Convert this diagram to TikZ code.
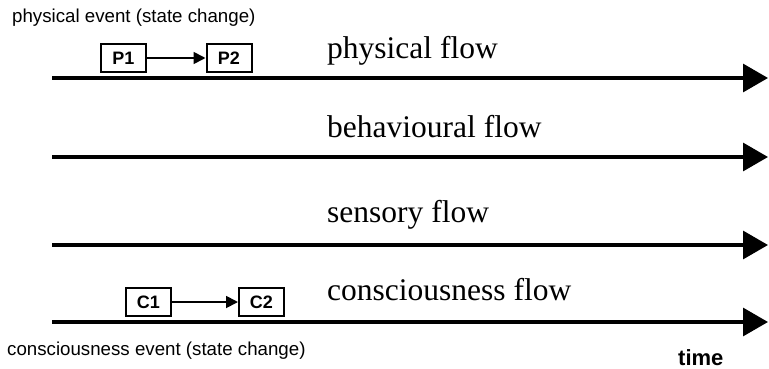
\documentclass[tikz,border=0pt]{standalone}
\usepackage{fontspec}
\setmainfont{Liberation Serif}
\setsansfont{Liberation Sans}
\usetikzlibrary{arrows.meta}
\begin{document}
\begin{tikzpicture}[x=1pt,y=-1pt,
  flowline/.style={line width=3.2pt,-{Triangle[length=25pt,width=28pt]}},
  evbox/.style={draw,line width=2pt,minimum width=45pt,minimum height=28pt,inner sep=0pt,font=\sffamily\bfseries\fontsize{18}{20}\selectfont},
  evarrow/.style={line width=1.8pt,-{Triangle[length=12pt,width=12pt]}},
  flowlabel/.style={anchor=base west,inner sep=0pt,font=\fontsize{31.5}{34}\selectfont},
  smalllabel/.style={anchor=base west,inner sep=0pt,font=\sffamily\fontsize{18.7}{21}\selectfont}]
\useasboundingbox (0,0) rectangle (769,369);
% flow lines
\coordinate (s1) at (52,78);  \coordinate (e1) at (768,78);
\coordinate (s2) at (52,157); \coordinate (e2) at (768,157);
\coordinate (s3) at (52,245); \coordinate (e3) at (768,245);
\coordinate (s4) at (52,322); \coordinate (e4) at (768,322);
\draw[flowline] (s1) -- (e1);
\draw[flowline] (s2) -- (e2);
\draw[flowline] (s3) -- (e3);
\draw[flowline] (s4) -- (e4);
% labels
\node[flowlabel] (lp) at (327,59) {physical flow};
\node[flowlabel] (lb) at (327,137) {behavioural flow};
\node[flowlabel] (ls) at (327,222) {sensory flow};
\node[flowlabel] (lc) at (327,300) {consciousness flow};
\node[smalllabel] (tp) at (12,23) {physical event (state change)};
\node[smalllabel] (tc) at (7,355) {consciousness event (state change)};
\node[anchor=base west,inner sep=0pt,font=\sffamily\bfseries\fontsize{22}{24}\selectfont] (tt) at (678,365) {time};
% events
\node[evbox] (P1) at (123.5,58) {P1};
\node[evbox] (P2) at (229,58) {P2};
\draw[evarrow] (P1) -- (P2);
\node[evbox] (C1) at (148.5,302) {C1};
\node[evbox] (C2) at (261.5,302) {C2};
\draw[evarrow] (C1) -- (C2);
\end{tikzpicture}
\end{document}
